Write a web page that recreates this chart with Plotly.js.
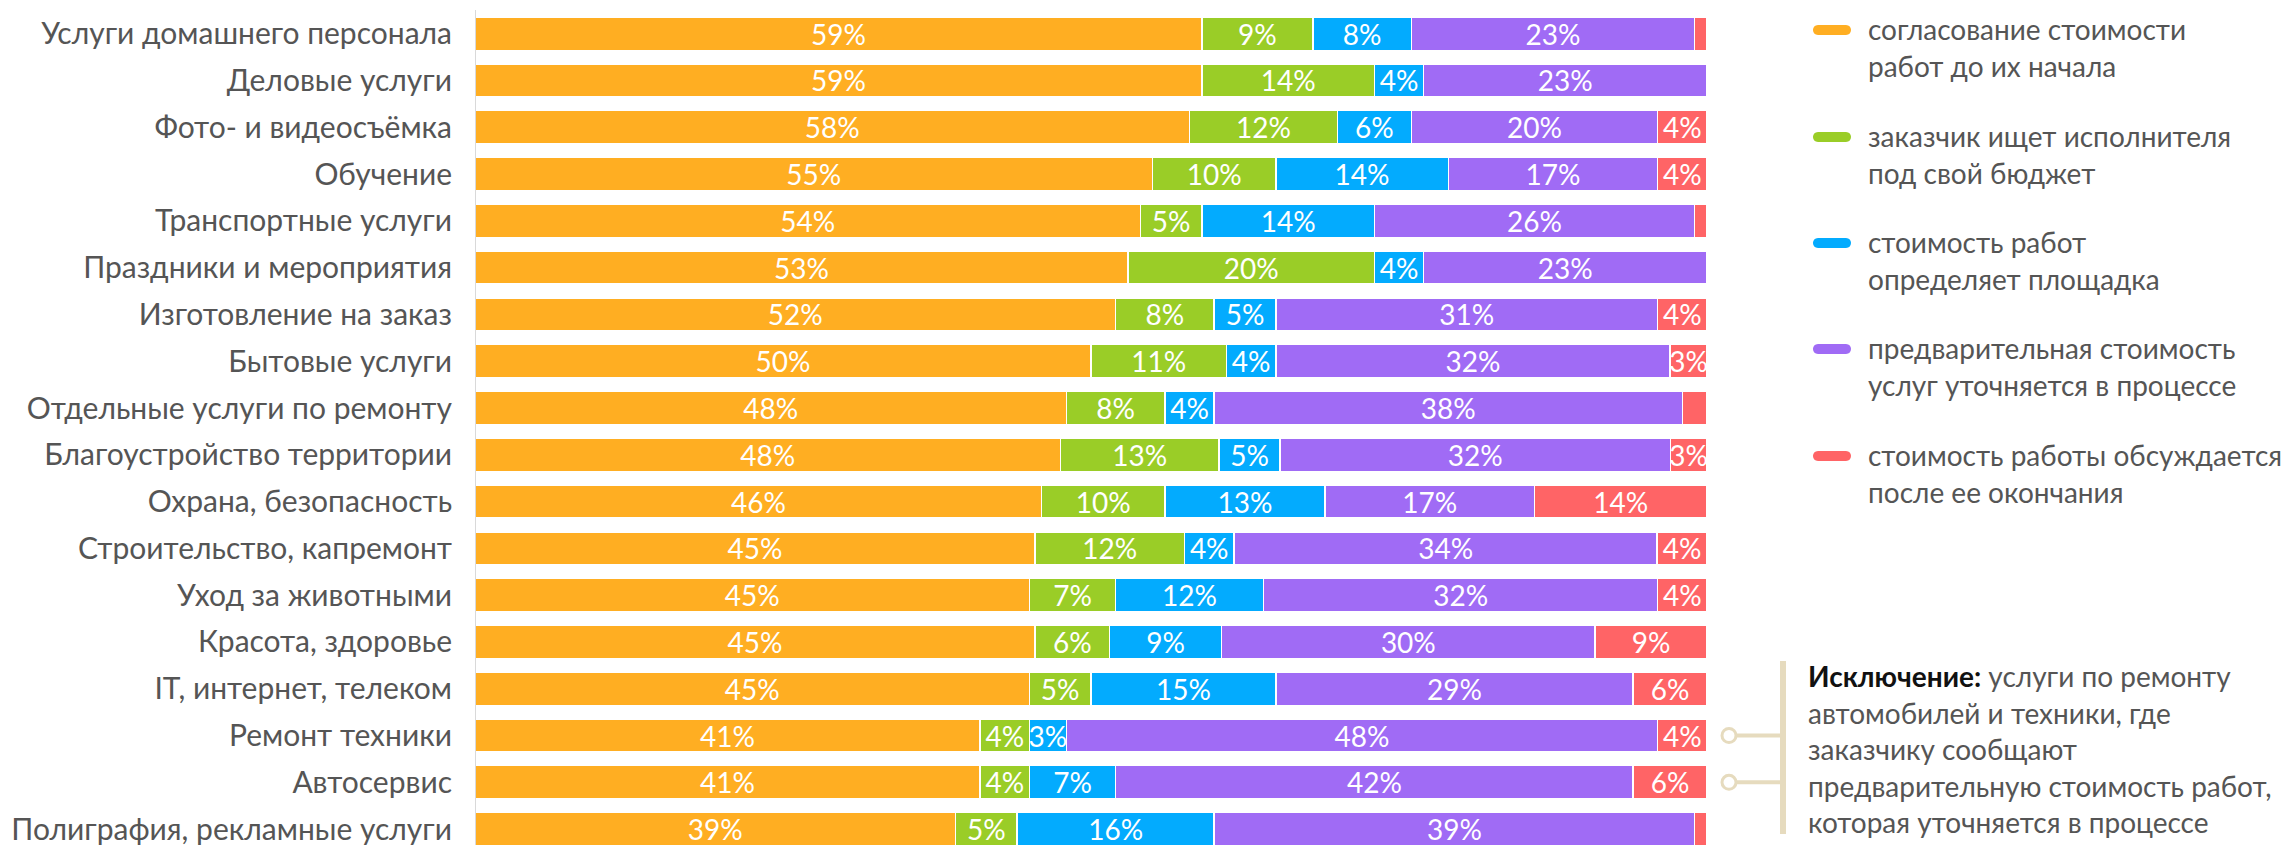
<!DOCTYPE html>
<html>
<head>
<meta charset="utf-8">
<script src="https://cdn.plot.ly/plotly-3.0.1.min.js"></script>
<style>
  html, body { margin: 0; padding: 0; background: #fff; }
  #chart { width: 2293px; height: 845px; }
</style>
</head>
<body>
<div id="chart"></div>
<script>
// categories, top to bottom
const categories = [
  "Услуги домашнего персонала",
  "Деловые услуги",
  "Фото- и видеосъёмка",
  "Обучение",
  "Транспортные услуги",
  "Праздники и мероприятия",
  "Изготовление на заказ",
  "Бытовые услуги",
  "Отдельные услуги по ремонту",
  "Благоустройство территории",
  "Охрана, безопасность",
  "Строительство, капремонт",
  "Уход за животными",
  "Красота, здоровье",
  "IT, интернет, телеком",
  "Ремонт техники",
  "Автосервис",
  "Полиграфия, рекламные услуги",
];

// shares in %, same order as categories
const agreedBefore = [59, 59, 58, 55, 54, 53, 52, 50, 48, 48, 46, 45, 45, 45, 45, 41, 41, 39];
const clientBudget = [9, 14, 12, 10, 5, 20, 8, 11, 8, 13, 10, 12, 7, 6, 5, 4, 4, 5];
const platformSets = [8, 4, 6, 14, 14, 4, 5, 4, 4, 5, 13, 4, 12, 9, 15, 3, 7, 16];
const refinedLater = [23, 23, 20, 17, 26, 23, 31, 32, 38, 32, 17, 34, 32, 30, 29, 48, 42, 39];
const afterFinish = [1, 0, 4, 4, 1, 0, 4, 3, 2, 3, 14, 4, 4, 9, 6, 4, 6, 1];

const seriesNames = [
  ["согласование стоимости", "работ до их начала"],
  ["заказчик ищет исполнителя", "под свой бюджет"],
  ["стоимость работ", "определяет площадка"],
  ["предварительная стоимость", "услуг уточняется в процессе"],
  ["стоимость работы обсуждается", "после ее окончания"],
];
const colors = ["#FFAE22", "#9ACD27", "#03ABFE", "#A06BF5", "#FF6466"];

const noteLines = [
  '<span style="color:#111"><b>Исключение:</b></span> услуги по ремонту',
  "автомобилей и техники, где",
  "заказчику сообщают",
  "предварительную стоимость работ,",
  "которая уточняется в процессе",
];
const bracketRows = ["Ремонт техники", "Автосервис"];

// page geometry (pixels)
const W = 2293, H = 845;
const plotL = 475, plotR = 1707;
const px = (x) => (x - plotL) / (plotR - plotL);
const py = (y) => 1 - y / H;

const FONT = "Lato, 'Open Sans', sans-serif";
const seriesValues = [agreedBefore, clientBudget, platformSets, refinedLater, afterFinish];

const traces = seriesValues.map((vals, i) => ({
  type: "bar",
  orientation: "h",
  y: categories,
  x: vals,
  name: seriesNames[i].join(" "),
  text: vals.map((v) => (v >= 3 ? v + "%" : "")),
  textposition: "inside",
  insidetextanchor: "middle",
  textfont: { family: FONT, size: 28, color: "#fff" },
  marker: { color: colors[i], line: { color: "#fff", width: 1.5 } },
  hoverinfo: "y+text",
}));

const annotations = [];
const shapes = [];

// legend: pill + two lines of text
const legendTop = [29, 136, 242, 348, 455];
seriesNames.forEach((lines, i) => {
  const y0 = legendTop[i];
  shapes.push({
    type: "path",
    xref: "paper", yref: "paper",
    xsizemode: "pixel", ysizemode: "pixel",
    xanchor: px(1832), yanchor: py(y0 + 1),
    path: "M -14,-5 L 14,-5 C 20.7,-5 20.7,5 14,5 L -14,5 C -20.7,5 -20.7,-5 -14,-5 Z",
    fillcolor: colors[i],
    line: { width: 0 },
  });
  lines.forEach((t, k) => {
    annotations.push({
      xref: "paper", yref: "paper",
      x: px(1866), y: py(y0 + k * 37),
      xanchor: "left", yanchor: "middle",
      text: t, showarrow: false, align: "left",
      font: { family: FONT, size: 28, color: "#555" },
    });
  });
});

// exception note
noteLines.forEach((t, k) => {
  annotations.push({
    xref: "paper", yref: "paper",
    x: px(1806), y: py(676 + k * 36.5),
    xanchor: "left", yanchor: "middle",
    text: t, showarrow: false, align: "left",
    font: { family: FONT, size: 28, color: "#555" },
  });
});

// bracket
const beige = "#E6DBBE";
shapes.push({
  type: "line", xref: "paper", yref: "paper",
  x0: px(1783), x1: px(1783), y0: py(661), y1: py(834),
  line: { color: beige, width: 6 },
});
bracketRows.forEach((cat) => {
  const yi = categories.indexOf(cat);
  shapes.push({
    type: "line", xref: "paper", yref: "y",
    x0: px(1736), x1: px(1783), y0: yi, y1: yi,
    line: { color: beige, width: 4 },
  });
  shapes.push({
    type: "circle", xref: "paper", yref: "y",
    xsizemode: "pixel", ysizemode: "pixel",
    xanchor: px(1729), yanchor: yi,
    x0: -7, x1: 7, y0: -7, y1: 7,
    fillcolor: "#fff",
    line: { color: beige, width: 3 },
  });
});

// thin axis line left of the bars
shapes.push({
  type: "line", xref: "x", yref: "paper",
  x0: 0, x1: 0, y0: 0, y1: py(10),
  line: { color: "#d9d9d9", width: 2 },
  layer: "above",
});

const layout = {
  width: W,
  height: H,
  margin: { l: plotL, r: W - plotR, t: 0, b: 0, pad: 0 },
  barmode: "stack",
  barnorm: "percent",
  bargap: 0.29,
  showlegend: false,
  paper_bgcolor: "#fff",
  plot_bgcolor: "#fff",
  uniformtext: { mode: "show", minsize: 28 },
  xaxis: {
    range: [0, 100],
    showgrid: false,
    zeroline: false,
    showticklabels: false,
    fixedrange: true,
  },
  yaxis: {
    type: "category",
    range: [17.34, -0.72],
    showgrid: false,
    zeroline: false,
    ticks: "",
    ticklabelstandoff: 22,
    tickfont: { family: FONT, size: 30, color: "#555" },
    fixedrange: true,
  },
  annotations: annotations,
  shapes: shapes,
};

Plotly.newPlot("chart", traces, layout, { displayModeBar: false, staticPlot: true });
</script>
</body>
</html>
